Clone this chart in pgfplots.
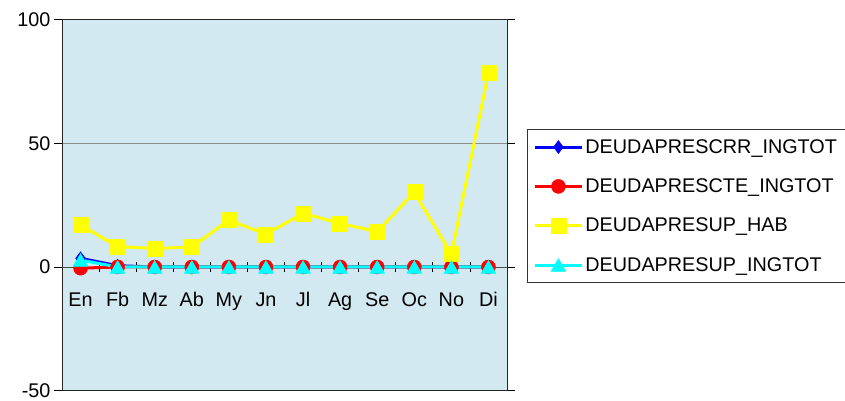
\documentclass[border=0pt]{standalone}
\usepackage{fontspec}
\setmainfont{Liberation Sans}
\usepackage{pgfplots}
\pgfplotsset{compat=1.18}
\definecolor{bgblue}{RGB}{210,233,242}
\definecolor{cblue}{RGB}{0,0,255}
\definecolor{cred}{RGB}{255,0,0}
\definecolor{cyellow}{RGB}{255,255,0}
\definecolor{ccyan}{RGB}{0,255,255}
\newcommand{\tfont}{\fontsize{19.8}{23}\selectfont}
\pgfplotsset{
  common/.style={scale only axis, width=445pt, height=371.2pt,
    xmin=-0.5, xmax=11.5, ymin=-50, ymax=100},
}
\begin{document}
\begin{tikzpicture}
\path[use as bounding box] (-62pt,-9.3pt) rectangle (783pt,390.7pt);
% background, box, y axis, grid
\begin{axis}[common,
  axis background/.style={fill=bgblue},
  axis line style={draw=black!85, line width=0.8pt},
  xtick=\empty,
  ytick={-50,0,50,100}, yticklabels={-50,0,50,100},
  yticklabel style={font=\tfont},
  tick align=outside, major tick length=8pt,
  ytick style={black, line width=0.8pt},
  ymajorgrids, grid style={black!45, line width=0.8pt},
]
\end{axis}
% zero line with category labels
\begin{axis}[common,
  axis x line=middle, axis y line=none,
  axis line style={-, draw=black!70, line width=0.8pt},
  xtick={0,...,11},
  xticklabels={En,Fb,Mz,Ab,My,Jn,Jl,Ag,Se,Oc,No,Di},
  minor xtick={0.5,1.5,...,10.5},
  major tick length=0pt, minor tick length=10pt, tick align=center,
  minor tick style={black, line width=0.8pt},
  xticklabel style={font=\tfont, yshift=-22pt},
]
\end{axis}
% data
\begin{axis}[common, hide axis,
  legend cell align=left,
  legend image code/.code={\draw[mark repeat=2,mark phase=2,#1] plot coordinates {(0pt,0pt) (23.5pt,0pt) (47pt,0pt)};},
  legend style={at={(1.045,0.705)}, anchor=north west, draw=black!80, line width=0.8pt,
    fill=white, font=\tfont, row sep=20pt, inner xsep=6pt, inner ysep=8pt,
    /tikz/every even column/.append style={column sep=9pt}},
]
\addplot[color=cblue, line width=3pt, mark=diamond*, mark size=6.5pt, mark options={solid, line width=0.5pt}] coordinates {
 (0,3.5) (1,0.5) (2,0) (3,0) (4,0) (5,0) (6,0) (7,0) (8,0) (9,0) (10,0) (11,0)};
\addlegendentry{DEUDAPRESCRR\_INGTOT}
\addplot[color=cred, line width=3pt, mark=*, mark size=7pt, mark options={solid, line width=0.5pt}] coordinates {
 (0,-0.5) (1,0) (2,0) (3,0) (4,0) (5,0) (6,0) (7,0) (8,0) (9,0) (10,0) (11,0)};
\addlegendentry{DEUDAPRESCTE\_INGTOT}
\addplot[color=cyellow, line width=3pt, mark=square*, mark size=7.5pt, mark options={solid, line width=0.5pt}] coordinates {
 (0,17) (1,8.2) (2,7.5) (3,8) (4,19) (5,13.2) (6,21.7) (7,17.6) (8,14.3) (9,30.2) (10,5.2) (11,78.5)};
\addlegendentry{DEUDAPRESUP\_HAB}
\addplot[color=ccyan, line width=3pt, mark=triangle*, mark size=8.5pt, mark options={solid, line width=0.5pt, yshift=-2.1pt}] coordinates {
 (0,2.8) (1,0) (2,0) (3,0) (4,0) (5,0) (6,0) (7,0) (8,0) (9,0) (10,0) (11,0)};
\addlegendentry{DEUDAPRESUP\_INGTOT}
\end{axis}
\end{tikzpicture}
\end{document}
